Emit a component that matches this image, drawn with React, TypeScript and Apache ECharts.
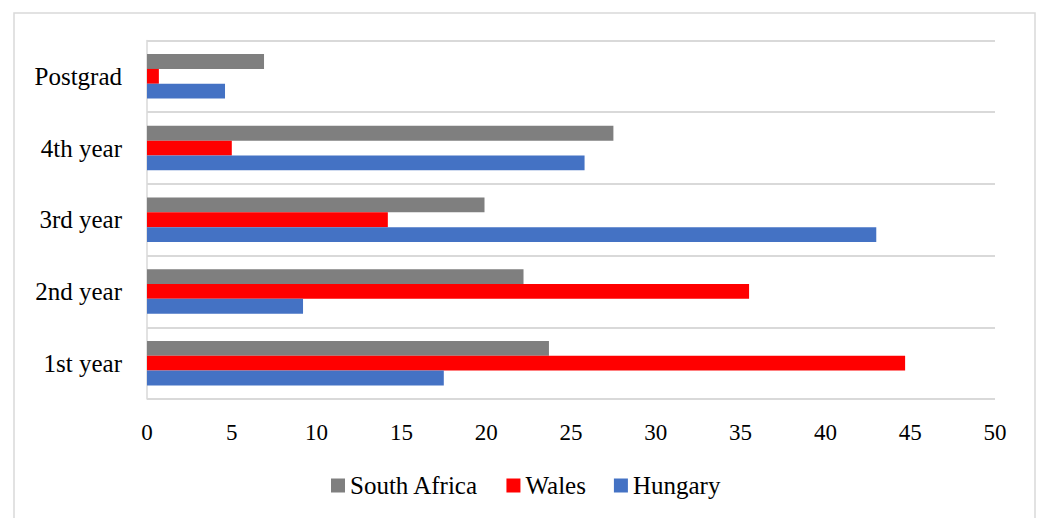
import React, { useEffect, useRef } from "react";
import * as echarts from "echarts";

const categories = ["1st year", "2nd year", "3rd year", "4th year", "Postgrad"];
const southAfrica = [23.7, 22.2, 19.9, 27.5, 6.9];
const wales = [44.7, 35.5, 14.2, 5.0, 0.7];
const hungary = [17.5, 9.2, 43.0, 25.8, 4.6];
const legendOrder = ["South Africa", "Wales", "Hungary"];

const FONT = "Liberation Serif";
const GRID_COLOR = "#d9d9d9";

export default function App() {
  const ref = useRef<HTMLDivElement>(null);

  useEffect(() => {
    document.body.style.margin = "0";
    if (!ref.current) return;
    const chart = echarts.init(ref.current, null, { renderer: "svg" });
    const barBase = { type: "bar", barGap: "0%", barCategoryGap: "38%" };
    const legendText = { fontFamily: FONT, fontSize: 25, color: "#000" };
    chart.setOption({
      animation: false,
      backgroundColor: "#ffffff",
      textStyle: { fontFamily: FONT, color: "#000" },
      graphic: [
        {
          type: "rect",
          shape: { x: 14, y: 13, width: 1021, height: 520 },
          style: { fill: "none", stroke: GRID_COLOR, lineWidth: 1.5 },
          silent: true,
        },
      ],
      grid: { left: 147, right: 42, top: 40.5, bottom: 119, containLabel: false },
      legend: {
        data: legendOrder.map((name) => ({ name, textStyle: legendText })),
        top: 468,
        left: 326,
        icon: "rect",
        itemWidth: 14,
        itemHeight: 14,
        itemGap: 28,
        textStyle: legendText,
      },
      xAxis: {
        type: "value",
        min: 0,
        max: 50,
        interval: 5,
        axisLine: { show: false },
        axisTick: { show: false },
        splitLine: { show: false },
        axisLabel: { fontFamily: FONT, fontSize: 23, color: "#000", margin: 22 },
      },
      yAxis: {
        type: "category",
        data: categories,
        axisLine: { show: true, lineStyle: { color: GRID_COLOR, width: 1.5 } },
        axisTick: { show: false },
        splitLine: { show: true, lineStyle: { color: GRID_COLOR, width: 2 } },
        axisLabel: { fontFamily: FONT, fontSize: 25, color: "#000", margin: 25 },
      },
      series: [
        { ...barBase, name: "South Africa", data: southAfrica, itemStyle: { color: "#7f7f7f" } },
        { ...barBase, name: "Wales", data: wales, itemStyle: { color: "#ff0000" } },
        { ...barBase, name: "Hungary", data: hungary, itemStyle: { color: "#4472c4" } },
      ],
    });
    return () => chart.dispose();
  }, []);

  return <div ref={ref} style={{ width: 1037, height: 518 }} />;
}
